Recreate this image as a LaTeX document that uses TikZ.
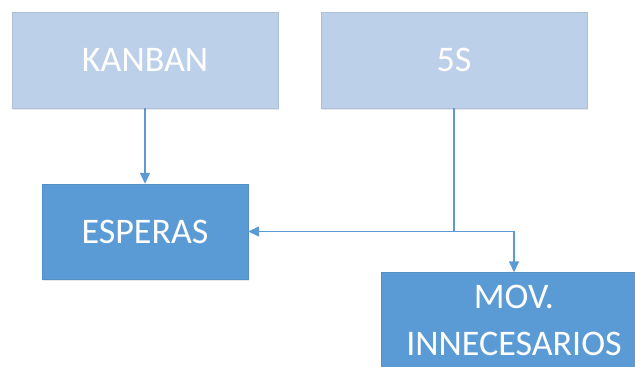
\documentclass[tikz,border=0pt]{standalone}
\usepackage{fontspec}
\setmainfont{Carlito}
\usetikzlibrary{arrows.meta,shadows}
\definecolor{lightfill}{HTML}{BDD0E9}
\definecolor{darkfill}{HTML}{5B9BD5}
\definecolor{conncol}{HTML}{5B9BD5}
\begin{document}
\begin{tikzpicture}[x=1pt,y=-1pt,
  box/.style={rectangle, inner sep=0pt, text=white, align=center,
    font=\fontsize{36}{47}\selectfont,
    drop shadow={shadow xshift=0.8pt, shadow yshift=-1.5pt, opacity=0.18, fill=gray}},
  topbox/.style={box, fill=lightfill, draw=lightfill!92!black, line width=0.4pt,
    minimum width=266pt, minimum height=96pt},
  lowbox/.style={box, fill=darkfill, draw=darkfill!92!black, line width=0.4pt,
    minimum height=95pt},
  conn/.style={draw=conncol, line width=1.4pt},
  arr/.style={conn, -{Triangle[width=10pt,length=11pt]}}]
\useasboundingbox (0,0) rectangle (635,367);
\clip (0,0) rectangle (635,367);
\node[topbox] (kanban) at (145,60) {KANBAN};
\node[topbox] (fives) at (454,60) {5S};
\node[lowbox, minimum width=206pt] (esperas) at (145,231.5) {ESPERAS};
\node[lowbox, minimum width=266pt] (mov) at (514,320) {MOV.\\INNECESARIOS};
\coordinate (j) at (454,231.5);
\draw[arr] (kanban.south) -- (esperas.north);
\draw[conn] (fives.south) -- (j);
\draw[arr] (j) -- (esperas.east);
\draw[arr] (j) -| (mov.north);
\end{tikzpicture}
\end{document}
